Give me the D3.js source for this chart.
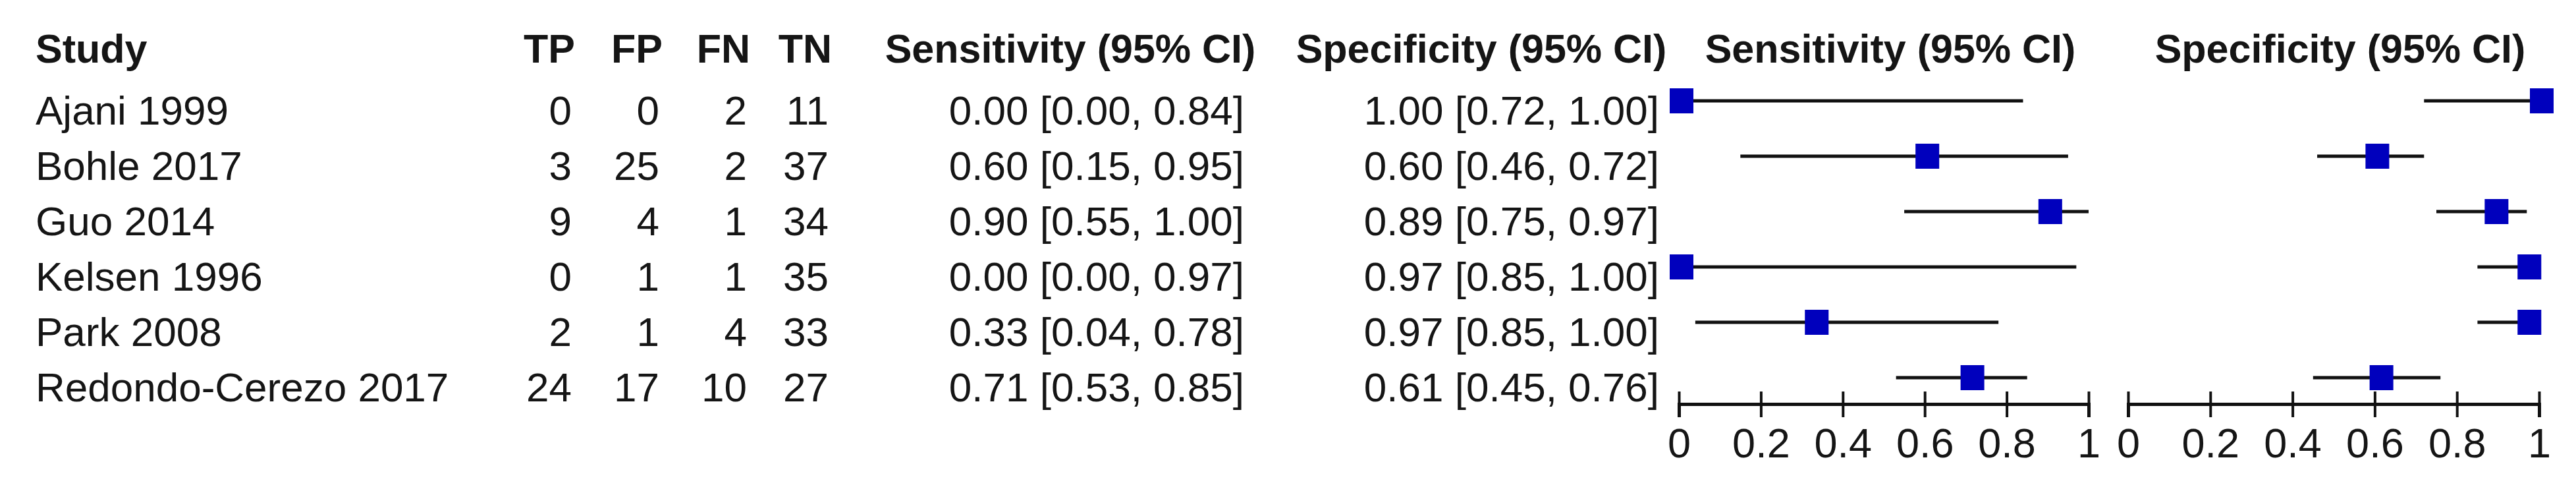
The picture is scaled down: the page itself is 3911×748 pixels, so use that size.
<!DOCTYPE html>
<html>
<head>
<meta charset="utf-8">
<script src="https://cdn.jsdelivr.net/npm/d3@7"></script>
<style>
  html, body { margin: 0; padding: 0; background: #fff; }
  svg { display: block; }
  text { font-family: "Liberation Sans", Arial, Helvetica, sans-serif; fill: #151515; }
</style>
</head>
<body>
<svg id="chart" width="3911" height="748"></svg>
<script>
// ---- data ----
const studies = ["Ajani 1999", "Bohle 2017", "Guo 2014", "Kelsen 1996", "Park 2008", "Redondo-Cerezo 2017"];
const TP = [0, 3, 9, 0, 2, 24];
const FP = [0, 25, 4, 1, 1, 17];
const FN = [2, 2, 1, 1, 4, 10];
const TN = [11, 37, 34, 35, 33, 27];
const sens   = [0.00, 0.60, 0.90, 0.00, 0.33, 0.71];
const sensLo = [0.00, 0.15, 0.55, 0.00, 0.04, 0.53];
const sensHi = [0.84, 0.95, 1.00, 0.97, 0.78, 0.85];
const spec   = [1.00, 0.60, 0.89, 0.97, 0.97, 0.61];
const specLo = [0.72, 0.46, 0.75, 0.85, 0.85, 0.45];
const specHi = [1.00, 0.72, 0.97, 1.00, 1.00, 0.76];
const countHeaders = ["TP", "FP", "FN", "TN"];
const ciHeaders = ["Sensitivity (95% CI)", "Specificity (95% CI)"];
const plotHeaders = ["Sensitivity (95% CI)", "Specificity (95% CI)"];
const tickValues = [0, 0.2, 0.4, 0.6, 0.8, 1];
const tickLabels = ["0", "0.2", "0.4", "0.6", "0.8", "1"];

// ---- layout ----
const svg = d3.select("#chart");
const FS = 62;           // body font size
const HFS = 61;          // header font size
const headerBase = 95;
const textDrop = 36;     // baseline below row line
const y = d3.scalePoint().domain(studies).range([153, 573]);
const xSens = d3.scaleLinear().domain([0, 1]).range([2549, 3171]);
const xSpec = d3.scaleLinear().domain([0, 1]).range([3231, 3855]);
const countRight = [868, 1001, 1134, 1258];
const ciRight = [1889, 2519];
const ciHeaderMid = [1625, 2249];
const axisY = 613;
const blue = "#0000bd";
const fmt = d3.format(".2f");

// headers
svg.append("text").attr("x", 54).attr("y", headerBase)
  .attr("font-size", HFS).attr("font-weight", "bold").text("Study");
countHeaders.forEach((h, i) => {
  svg.append("text").attr("x", countRight[i] + 5).attr("y", headerBase)
    .attr("text-anchor", "end").attr("font-size", HFS).attr("font-weight", "bold").text(h);
});
ciHeaders.forEach((h, i) => {
  svg.append("text").attr("x", ciHeaderMid[i]).attr("y", headerBase)
    .attr("text-anchor", "middle").attr("font-size", HFS).attr("font-weight", "bold").text(h);
});
[xSens, xSpec].forEach((sc, i) => {
  svg.append("text").attr("x", (sc.range()[0] + sc.range()[1]) / 2 + 10).attr("y", headerBase)
    .attr("text-anchor", "middle").attr("font-size", HFS).attr("font-weight", "bold").text(plotHeaders[i]);
});

// rows
const rows = studies.map((s, i) => ({
  s, tp: TP[i], fp: FP[i], fn: FN[i], tn: TN[i],
  se: sens[i], seL: sensLo[i], seH: sensHi[i],
  sp: spec[i], spL: specLo[i], spH: specHi[i]
}));

const g = svg.append("g");
rows.forEach(r => {
  const by = y(r.s) + textDrop;
  g.append("text").attr("x", 54).attr("y", by).attr("font-size", FS).text(r.s);
  [r.tp, r.fp, r.fn, r.tn].forEach((v, k) => {
    g.append("text").attr("x", countRight[k]).attr("y", by).attr("text-anchor", "end")
      .attr("font-size", FS).text(v);
  });
  g.append("text").attr("x", ciRight[0]).attr("y", by).attr("text-anchor", "end")
    .attr("font-size", FS).text(`${fmt(r.se)} [${fmt(r.seL)}, ${fmt(r.seH)}]`);
  g.append("text").attr("x", ciRight[1]).attr("y", by).attr("text-anchor", "end")
    .attr("font-size", FS).text(`${fmt(r.sp)} [${fmt(r.spL)}, ${fmt(r.spH)}]`);
});

// forest panels
const SQW = 36, SQH = 38;
function panel(sc, est, lo, hi) {
  const pg = svg.append("g");
  pg.selectAll("line.ci").data(rows).enter().append("line")
    .attr("x1", d => sc(lo(d))).attr("x2", d => sc(hi(d)))
    .attr("y1", d => y(d.s)).attr("y2", d => y(d.s))
    .attr("stroke", "#111").attr("stroke-width", 5);
  pg.selectAll("rect").data(rows).enter().append("rect")
    .attr("x", d => sc(est(d)) - SQW / 2 + 4).attr("y", d => y(d.s) - SQH / 2)
    .attr("width", SQW).attr("height", SQH).attr("fill", blue);
  const ax = d3.axisBottom(sc).tickValues(tickValues)
    .tickFormat((d, i) => tickLabels[i]).tickSizeOuter(0).tickSize(20);
  const axg = pg.append("g").attr("transform", `translate(0,${axisY})`).call(ax);
  axg.select(".domain").attr("stroke", "#111").attr("stroke-width", 5);
  axg.selectAll(".tick line").attr("y1", -19).attr("y2", 20)
    .attr("stroke", "#111").attr("stroke-width", 4);
  axg.selectAll(".tick text").attr("y", 81).attr("dy", 0)
    .attr("font-size", 63).attr("font-family", "Liberation Sans, Arial, sans-serif")
    .attr("fill", "#151515");
}
panel(xSens, d => d.se, d => d.seL, d => d.seH);
panel(xSpec, d => d.sp, d => d.spL, d => d.spH);
</script>
</body>
</html>
